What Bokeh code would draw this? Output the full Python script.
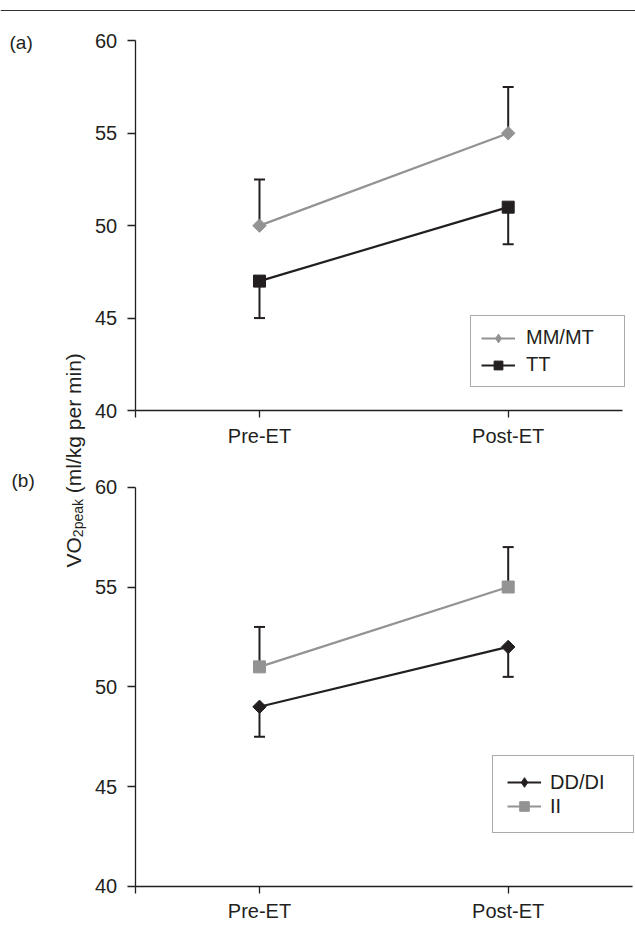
from math import pi
import numpy as np
from bokeh.plotting import figure
from bokeh.models import (LinearAxis, Range1d, FixedTicker, Legend, LegendItem,
                          Label, Span)
from bokeh.embed import file_html
from bokeh.resources import INLINE

# ---------------- data ----------------
categories = ["Pre-ET", "Post-ET"]
y_ticks = [40, 45, 50, 55, 60]

# panel (a)
mm_mt = [50, 55]
mm_mt_err_up = [2.5, 2.5]
tt = [47, 51]
tt_err_down = [2, 2]

# panel (b)
dd_di = [49, 52]
dd_di_err_down = [1.5, 1.5]
ii = [51, 55]
ii_err_up = [2, 2]

# ---------------- style ----------------
DARK = "#231f20"
GRAY = "#939393"
FONT = "Liberation Sans"
FS = "20px"

W, H = 635, 926
p = figure(width=W, height=H, x_range=Range1d(-1.0414, 1.5119),
           y_range=Range1d(12.086, 62.18),
           x_axis_type=None, y_axis_type=None, toolbar_location=None,
           output_backend="svg", min_border=0, title=None,
           outline_line_color=None)
p.extra_y_ranges = {"b": Range1d(37.996, 84.377)}

xs = list(range(len(categories)))


def series(rng, vals, errs, sign, color, diamond):
    vals = np.asarray(vals, dtype=float)
    ends = vals + sign * np.asarray(errs, dtype=float)
    p.segment(xs, vals, xs, ends, line_color=DARK, line_width=2, y_range_name=rng)
    p.scatter(xs, ends, marker="dash", size=11, line_color=DARK, line_width=2,
              y_range_name=rng)
    lr = p.line(xs, vals, line_color=color, line_width=2.2, y_range_name=rng)
    if diamond:
        p.scatter(xs, vals, marker="square", size=9.5, angle=pi / 4,
                  fill_color=color, line_color=color, y_range_name=rng)
        # legend-only glyph (legend ignores marker angle)
        leg = p.scatter(xs, vals, marker="diamond", size=12,
                        fill_color=color, line_color=color, y_range_name=rng,
                        visible=False)
        return [lr, leg]
    mr = p.scatter(xs, vals, marker="square", size=12,
                   fill_color=color, line_color=color, y_range_name=rng)
    return [lr, mr]


a1 = series("default", mm_mt, mm_mt_err_up, 1, GRAY, True)
a2 = series("default", tt, tt_err_down, -1, DARK, False)
b2 = series("b", ii, ii_err_up, 1, GRAY, False)
b1 = series("b", dd_di, dd_di_err_down, -1, DARK, True)


def style_axis(ax, tick_out, standoff):
    ax.axis_line_color = DARK
    ax.axis_line_width = 1.3
    ax.major_tick_line_color = DARK
    ax.major_tick_line_width = 1.3
    ax.major_tick_out = tick_out
    ax.major_tick_in = 0
    ax.minor_tick_out = 0
    ax.minor_tick_in = 0
    ax.major_label_text_font = FONT
    ax.major_label_text_font_size = FS
    ax.major_label_text_color = DARK
    ax.major_label_standoff = standoff


x_overrides = {-0.5: ""}
for i, c in enumerate(categories):
    x_overrides[i] = c

for rng, xend in (("default", 1.46), ("b", 1.5)):
    ya = LinearAxis(y_range_name=rng, fixed_location=-0.5, bounds=(40, 60),
                    ticker=FixedTicker(ticks=y_ticks))
    style_axis(ya, 8, 10)
    p.add_layout(ya, "left")
    xa = LinearAxis(y_range_name=rng, fixed_location=40, bounds=(-0.5, xend),
                    ticker=FixedTicker(ticks=[-0.5] + xs),
                    major_label_overrides=x_overrides)
    style_axis(xa, 7, 7)
    p.add_layout(xa, "below")

# legends
leg_a = Legend(items=[LegendItem(label="MM/MT", renderers=a1),
                      LegendItem(label="TT", renderers=a2)],
               location=(470, 539), padding=10, spacing=4, glyph_width=34,
               glyph_height=22, label_height=22, label_standoff=11,
               label_width=88, margin=0)
leg_b = Legend(items=[LegendItem(label="DD/DI", renderers=b1),
                      LegendItem(label="II", renderers=b2)],
               location=(492, 93), padding=14, spacing=0, glyph_width=34,
               glyph_height=24, label_height=24, label_standoff=9,
               label_width=69, margin=0)
for lg in (leg_a, leg_b):
    lg.label_text_font = FONT
    lg.label_text_font_size = FS
    lg.label_text_color = DARK
    lg.border_line_color = "#555555"
    lg.border_line_width = 1.2
    lg.background_fill_color = "white"
    lg.background_fill_alpha = 1
    p.add_layout(lg)

# top rule
p.add_layout(Span(location=916, location_units="screen", dimension="width",
                  line_color="#333333", line_width=1.2))

# panel labels
for txt, x, y in (("(a)", 9, 884), ("(b)", 11, 446)):
    p.add_layout(Label(x=x, y=y, x_units="screen", y_units="screen", text=txt,
                       text_font=FONT, text_font_size="19px", text_color=DARK,
                       text_baseline="alphabetic"))

# y-axis title (rotated) with subscript
LBL = 21
SUB = 14
base_x, base_y = 73, 359
p.add_layout(Label(x=base_x, y=base_y, x_units="screen", y_units="screen",
                   text="VO", angle=pi / 2, text_font=FONT,
                   text_font_size=f"{LBL}px", text_color=DARK,
                   text_baseline="alphabetic", text_align="left"))
y2 = base_y + 1.445 * LBL
p.add_layout(Label(x=base_x + 4, y=y2, x_units="screen", y_units="screen",
                   text="2peak", angle=pi / 2, text_font=FONT,
                   text_font_size=f"{SUB}px", text_color=DARK,
                   text_baseline="alphabetic", text_align="left"))
y3 = y2 + 2.724 * SUB + 0.278 * LBL
p.add_layout(Label(x=base_x, y=y3, x_units="screen", y_units="screen",
                   text="(ml/kg per min)", angle=pi / 2, text_font=FONT,
                   text_font_size=f"{LBL}px", text_color=DARK,
                   text_baseline="alphabetic", text_align="left"))

open("out.html", "w").write(file_html(p, INLINE))
